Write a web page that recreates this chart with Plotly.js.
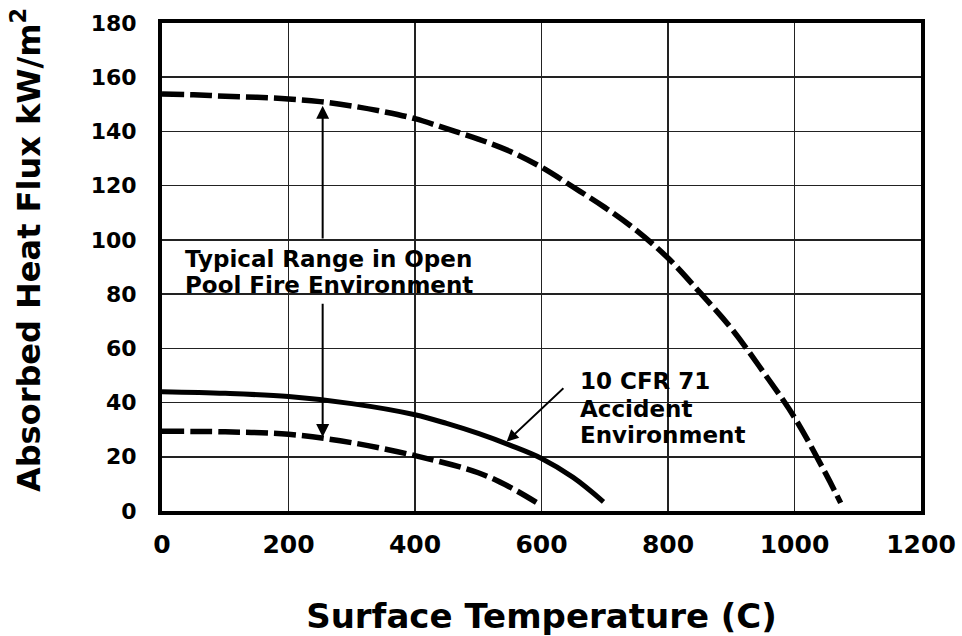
<!DOCTYPE html>
<html>
<head>
<meta charset="utf-8">
<script src="https://cdn.plot.ly/plotly-3.0.1.min.js"></script>
<style>html,body{margin:0;padding:0;background:#fff;}#chart{width:962px;height:636px;}</style>
</head>
<body>
<div id="chart"></div>
<script>
// Upper bound of typical open pool fire range (dashed)
const poolUpperT = [0, 50, 100, 150, 200, 250, 300, 350, 400, 450, 500, 550, 600, 650, 700, 750, 800, 850, 900, 950, 1000, 1050, 1073];
const poolUpperQ = [153.8, 153.5, 153, 152.6, 152, 151, 149.4, 147.3, 144.7, 141, 137.2, 132.7, 126.8, 119.5, 112, 103.5, 93.3, 80.7, 67.4, 51.5, 34.5, 13.5, 3];
// 10 CFR 71 accident environment (solid)
const cfrT = [0, 100, 200, 300, 400, 450, 500, 550, 600, 650, 698];
const cfrQ = [44, 43.4, 42.2, 39.6, 35.5, 32.3, 28.6, 24.3, 19.4, 12.4, 3.4];
// Lower bound of typical open pool fire range (dashed)
const poolLowerT = [0, 100, 200, 300, 400, 500, 550, 598];
const poolLowerQ = [29.4, 29.2, 28.3, 25.2, 20.4, 14.1, 8.8, 2.3];

const xTicks = [0, 200, 400, 600, 800, 1000, 1200];
const yTicks = [0, 20, 40, 60, 80, 100, 120, 140, 160, 180];

const xTitle = "Surface Temperature (C)";
const yTitle = "Absorbed Heat Flux kW/m<sup>2</sup>";
const rangeLabel = ["Typical Range in Open", "Pool Fire Environment"];
const cfrLabel = ["10 CFR 71", "Accident", "Environment"];

const FONT = "DejaVu Sans";

const traces = [
  {x: poolUpperT, y: poolUpperQ, mode: "lines", line: {color: "#000", width: 5.5, dash: "22px,6px", shape: "spline", smoothing: 1}, hoverinfo: "skip"},
  {x: cfrT, y: cfrQ, mode: "lines", line: {color: "#000", width: 5, shape: "spline", smoothing: 1}, hoverinfo: "skip"},
  {x: poolLowerT, y: poolLowerQ, mode: "lines", line: {color: "#000", width: 5.5, dash: "22px,6px", shape: "spline", smoothing: 1}, hoverinfo: "skip"}
];

const annFont = {family: FONT, size: 23, color: "#000", weight: "bold"};
const annotations = [
  // y axis title
  {x: -0.179, y: 0.535, xref: "paper", yref: "paper", text: yTitle, textangle: -90, showarrow: false, xanchor: "center", yanchor: "middle",
   font: {family: FONT, size: 32, color: "#000", weight: "bold"}},
  {x: 33, y: 93, xref: "x", yref: "y", text: rangeLabel[0], showarrow: false, xanchor: "left", yanchor: "middle", font: annFont},
  {x: 33, y: 83.5, xref: "x", yref: "y", text: rangeLabel[1], showarrow: false, xanchor: "left", yanchor: "middle", font: annFont},
  {x: 658, y: 47.8, xref: "x", yref: "y", text: cfrLabel[0], showarrow: false, xanchor: "left", yanchor: "middle", font: annFont},
  {x: 658, y: 37.8, xref: "x", yref: "y", text: cfrLabel[1], showarrow: false, xanchor: "left", yanchor: "middle", font: annFont},
  {x: 658, y: 28.2, xref: "x", yref: "y", text: cfrLabel[2], showarrow: false, xanchor: "left", yanchor: "middle", font: annFont},
  // arrows
  {x: 254, y: 149.5, xref: "x", yref: "y", ax: 254, ay: 100, axref: "x", ayref: "y", text: "", showarrow: true, arrowhead: 2, arrowsize: 1.3, arrowwidth: 2, arrowcolor: "#000"},
  {x: 254, y: 27.3, xref: "x", yref: "y", ax: 254, ay: 77, axref: "x", ayref: "y", text: "", showarrow: true, arrowhead: 2, arrowsize: 1.3, arrowwidth: 2, arrowcolor: "#000"},
  {x: 545, y: 25.6, xref: "x", yref: "y", ax: 637, ay: 45.8, axref: "x", ayref: "y", text: "", showarrow: true, arrowhead: 2, arrowsize: 1.3, arrowwidth: 1.8, arrowcolor: "#000"}
];

const layout = {
  width: 962, height: 636,
  margin: {l: 162, r: 41, t: 23, b: 125},
  paper_bgcolor: "#fff", plot_bgcolor: "#fff",
  showlegend: false,
  font: {family: FONT, color: "#000"},
  xaxis: {
    range: [0, 1200], tickvals: xTicks, ticktext: xTicks.map(String),
    showline: true, mirror: true, linecolor: "#000", linewidth: 4,
    showgrid: true, gridcolor: "#222", gridwidth: 1.5, zeroline: false,
    ticks: "", ticklabelstandoff: 8,
    tickfont: {family: FONT, size: 25, color: "#000", weight: "bold"},
    title: {text: xTitle, font: {family: FONT, size: 34, color: "#000", weight: "bold"}, standoff: 62},
    fixedrange: true
  },
  yaxis: {
    range: [0, 180], tickvals: yTicks, ticktext: yTicks.map(String),
    showline: true, mirror: true, linecolor: "#000", linewidth: 4,
    showgrid: true, gridcolor: "#222", gridwidth: 1.5, zeroline: false,
    ticks: "", ticklabelstandoff: 17,
    tickfont: {family: FONT, size: 22, color: "#000", weight: "bold"},
    fixedrange: true
  },
  annotations: annotations
};

Plotly.newPlot("chart", traces, layout, {displayModeBar: false, staticPlot: true});
</script>
</body>
</html>
